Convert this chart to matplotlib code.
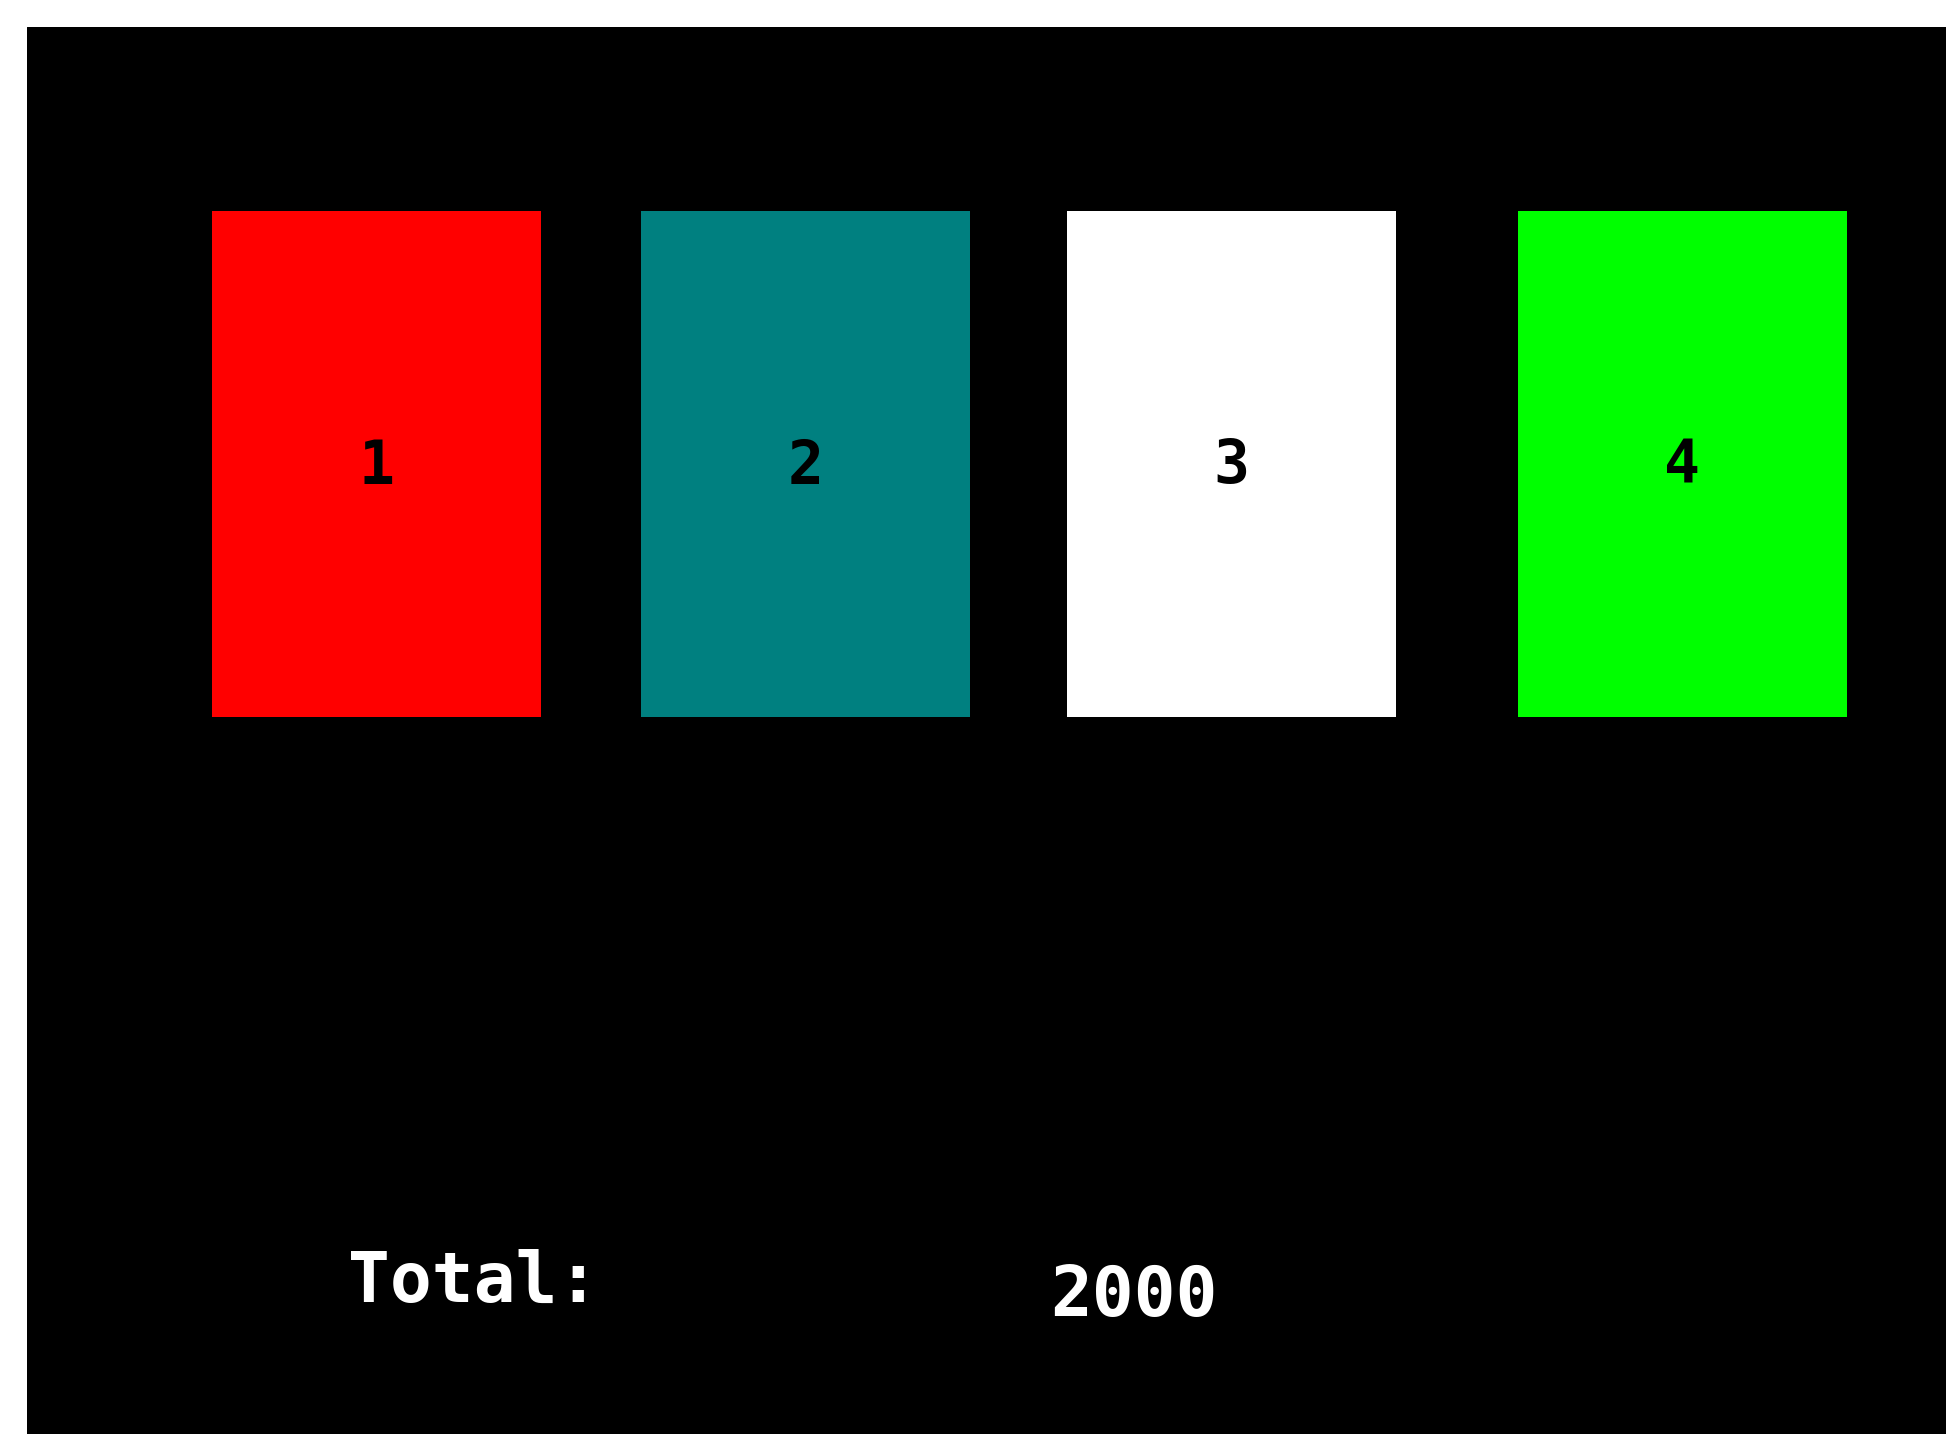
import matplotlib.pyplot as plt

# card data
card_labels = ['1', '2', '3', '4']
card_colors = ['#ff0000', '#008080', '#ffffff', '#00ff00']
total_label = 'Total:'
total_value = 2000

# layout in screen pixels (y grows downwards)
card_centers = [376.5, 805.5, 1231.5, 1682.5]
card_width = 329
card_top = 211
card_bottom = 717

fig = plt.figure(figsize=(19.46, 14.34), dpi=100, facecolor='white')
ax = fig.add_axes([27 / 1946, 0, 1 - 27 / 1946, 1 - 27 / 1434])
ax.set_facecolor('black')
ax.set_xlim(27, 1946)
ax.set_ylim(1434, 27)
ax.axis('off')
ax.add_patch(plt.Rectangle((27, 27), 1919, 1407, color='black', zorder=0))

# cards
ax.bar(card_centers, card_bottom - card_top, bottom=card_top, width=card_width,
       color=card_colors, zorder=1)
for x, lab in zip(card_centers, card_labels):
    ax.text(x, (card_top + card_bottom) / 2 + 3, lab, ha='center', va='center',
            fontsize=43, fontweight='bold', family='DejaVu Sans Mono', color='black', zorder=2)

# total line
ax.text(348, 1302, total_label, ha='left', va='baseline', fontsize=50, fontweight='bold',
        family='DejaVu Sans Mono', color='white')
ax.text(1134, 1316, str(total_value), ha='center', va='baseline', fontsize=50, fontweight='bold',
        family='DejaVu Sans Mono', color='white')

fig.savefig('out.png', dpi=100, facecolor='white')
